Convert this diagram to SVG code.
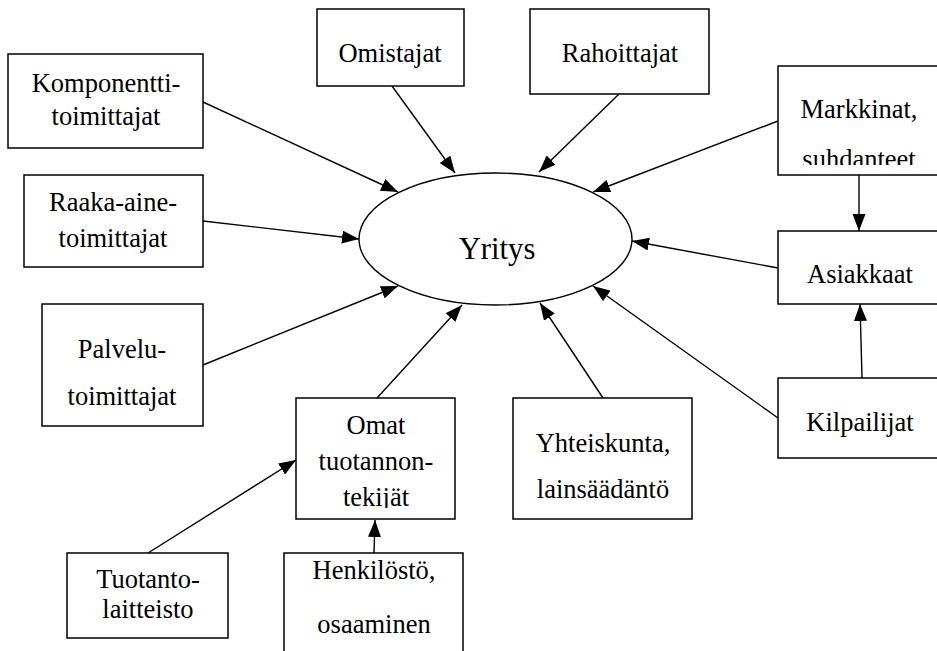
<svg xmlns="http://www.w3.org/2000/svg" width="937" height="651" viewBox="0 0 937 651">
<style>
.box{fill:#fff;stroke:#000;stroke-width:1.5}
.t{font-family:'Liberation Serif',serif;font-size:26.5px;fill:#000;text-anchor:middle}
.big{font-size:30.7px}
.c line{stroke:#000;stroke-width:1.4;marker-end:url(#ah)}
</style>
<defs>
<marker id="ah" viewBox="0 0 17 13" refX="17" refY="6.5" markerWidth="17" markerHeight="13" orient="auto" markerUnits="userSpaceOnUse">
<path d="M0,0 L17,6.5 L0,13 z" fill="#000"/>
</marker>
<clipPath id="clipM"><rect x="778" y="66" width="170" height="99"/></clipPath>
<clipPath id="clipO"><rect x="296" y="398" width="159" height="110"/></clipPath>
</defs>
<rect width="937" height="651" fill="#fff"/>
<g class="c">
<line x1="203" y1="102" x2="398" y2="192"/>
<line x1="203" y1="221" x2="359" y2="239"/>
<line x1="203" y1="365" x2="398" y2="286"/>
<line x1="392" y1="86" x2="455" y2="173"/>
<line x1="619" y1="94" x2="539" y2="172"/>
<line x1="778" y1="121" x2="593" y2="192"/>
<line x1="778" y1="268" x2="632" y2="241"/>
<line x1="778" y1="418" x2="593" y2="286"/>
<line x1="603" y1="398" x2="540" y2="303"/>
<line x1="377" y1="398" x2="462" y2="305"/>
<line x1="148" y1="553" x2="296" y2="460"/>
<line x1="374" y1="553" x2="375" y2="520"/>
<line x1="859" y1="175" x2="859" y2="231"/>
<line x1="862" y1="378" x2="860" y2="304"/>
</g>
<g id="yritys">
<ellipse cx="495.5" cy="239" rx="136.5" ry="66" fill="#fff" stroke="#000" stroke-width="1.4"/>
<text class="t big" x="497" y="259">Yritys</text>
</g>
<g id="komponentti">
<rect class="box" x="8" y="54" width="195" height="94"/>
<text class="t" x="106" y="92">Komponentti-</text>
<text class="t" x="106" y="125">toimittajat</text>
</g>
<g id="raaka">
<rect class="box" x="24" y="175" width="179" height="92"/>
<text class="t" x="113" y="211">Raaka-aine-</text>
<text class="t" x="113" y="247">toimittajat</text>
</g>
<g id="palvelu">
<rect class="box" x="42" y="304" width="161" height="122"/>
<text class="t" x="122" y="358">Palvelu-</text>
<text class="t" x="122" y="405">toimittajat</text>
</g>
<g id="omistajat">
<rect class="box" x="317" y="9" width="147" height="77"/>
<text class="t" x="390" y="62">Omistajat</text>
</g>
<g id="rahoittajat">
<rect class="box" x="530" y="9" width="179" height="85"/>
<text class="t" x="620" y="62">Rahoittajat</text>
</g>
<g id="markkinat">
<rect class="box" x="778" y="66" width="165" height="109"/>
<g clip-path="url(#clipM)">
<text class="t" x="859" y="118">Markkinat,</text>
<text class="t" x="859" y="168">suhdanteet</text>
</g>
</g>
<g id="asiakkaat">
<rect class="box" x="778" y="231" width="165" height="73"/>
<text class="t" x="860" y="283">Asiakkaat</text>
</g>
<g id="kilpailijat">
<rect class="box" x="778" y="378" width="165" height="80"/>
<text class="t" x="860" y="431">Kilpailijat</text>
</g>
<g id="omat">
<rect class="box" x="296" y="398" width="159" height="121"/>
<g clip-path="url(#clipO)">
<text class="t" x="376" y="434">Omat</text>
<text class="t" x="376" y="470">tuotannon-</text>
<text class="t" x="376" y="506">tekijät</text>
</g>
</g>
<g id="yhteiskunta">
<rect class="box" x="513" y="398" width="179" height="121"/>
<text class="t" x="603" y="452">Yhteiskunta,</text>
<text class="t" x="603" y="498">lainsäädäntö</text>
</g>
<g id="tuotanto">
<rect class="box" x="67" y="553" width="161" height="85"/>
<text class="t" x="148" y="588">Tuotanto-</text>
<text class="t" x="148" y="618">laitteisto</text>
</g>
<g id="henkilosto">
<rect class="box" x="284" y="553" width="179" height="110"/>
<text class="t" x="374" y="579">Henkilöstö,</text>
<text class="t" x="374" y="633">osaaminen</text>
</g>
</svg>
